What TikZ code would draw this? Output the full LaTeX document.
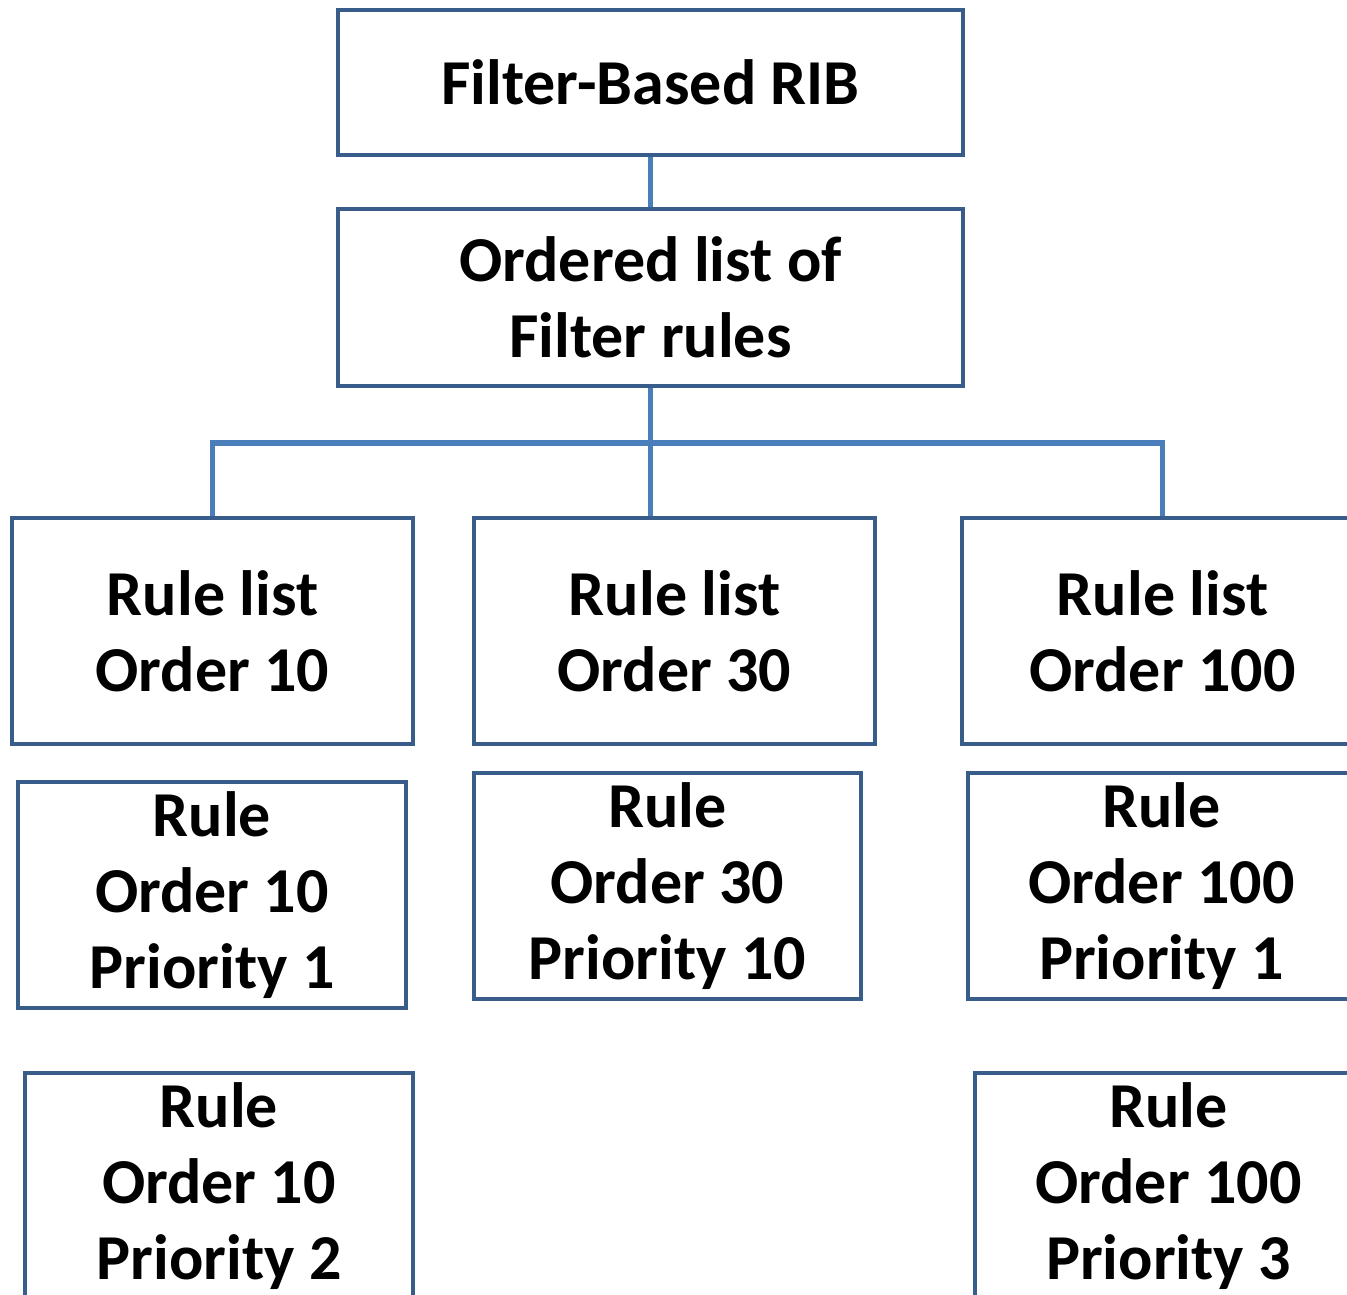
\documentclass[tikz,border=0pt]{standalone}
\usepackage{fontspec}
\setmainfont{Carlito}
\definecolor{boxblue}{RGB}{56,93,138}
\definecolor{linkblue}{RGB}{74,126,187}
\begin{document}
\begin{tikzpicture}[x=1pt,y=-1pt,
		box/.style={draw=boxblue, line width=4.5pt, align=center, inner sep=0pt,
			font=\fontsize{64}{76}\selectfont\bfseries},
		link/.style={draw=linkblue, line width=5.5pt}]
		\useasboundingbox (0,0) rectangle (1347,1295);
		\clip (0,0) rectangle (1347,1295);
		%Kopf
		\node[box, minimum width=625, minimum height=145] (rib) at (650.5,82.5) {Filter-Based RIB};
		\node[box, minimum width=625, minimum height=177] (ordered) at (650.5,297.5) {Ordered list of\\Filter rules};
		%Regellisten
		\node[box, minimum width=401, minimum height=226] (list10) at (212.5,631) {Rule list\\Order 10};
		\node[box, minimum width=401, minimum height=226] (list30) at (674.5,631) {Rule list\\Order 30};
		\node[box, minimum width=401, minimum height=226] (list100) at (1162.5,631) {Rule list\\Order 100};
		%Regeln
		\node[box, minimum width=388, minimum height=226] (rule10a) at (212,895) {Rule\\Order 10\\Priority 1};
		\node[box, minimum width=388, minimum height=226] (rule10b) at (219,1186) {Rule\\Order 10\\Priority 2};
		\node[box, minimum width=387, minimum height=226] (rule30) at (667.5,886) {Rule\\Order 30\\Priority 10};
		\node[box, minimum width=387, minimum height=226] (rule100a) at (1161.5,886) {Rule\\Order 100\\Priority 1};
		\node[box, minimum width=387, minimum height=226] (rule100b) at (1168.5,1186) {Rule\\Order 100\\Priority 3};
		%Verbindungen
		\coordinate (bus) at (650.5,443);
		\draw[link] (rib.south) -- (ordered.north);
		\draw[link] (ordered.south) -- (ordered.south |- list30.north);
		\draw[link] (list10.north) |- (bus) -| (list100.north);
\end{tikzpicture}
\end{document}
